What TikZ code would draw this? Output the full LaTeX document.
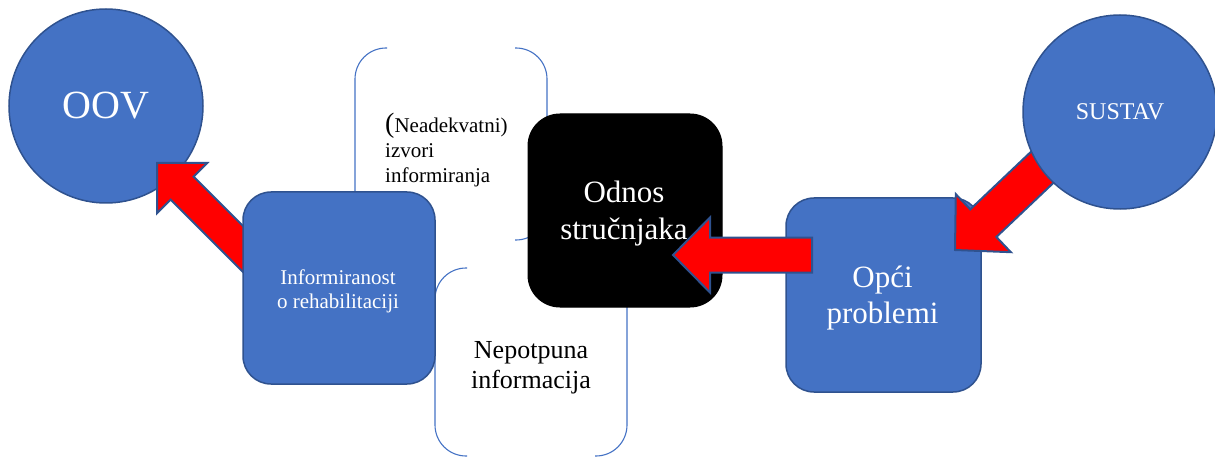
\documentclass[tikz,border=0pt]{standalone}
\usepackage{fontspec}
\setmainfont{Liberation Serif}
\usetikzlibrary{calc}

\definecolor{shapeblue}{HTML}{4472C4}
\definecolor{edgeblue}{HTML}{2F528F}
\definecolor{arrowred}{HTML}{FF0000}

\newcommand{\fsz}[2]{\fontsize{#1}{#2}\selectfont}

% block arrow: tail, tip, shaft width, head width, head length
\newcommand{\blockarrow}[5]{%
  \coordinate (hb) at ($(#2)!#5!(#1)$);
  \draw[arrowshape] (#2)
    -- ($(hb)!0.5*#4!90:(#2)$)
    -- ($(hb)!0.5*#3!90:(#2)$)
    -- ($(#1)!0.5*#3!90:(hb)$)
    -- ($(#1)!0.5*#3!-90:(hb)$)
    -- ($(hb)!0.5*#3!-90:(#2)$)
    -- ($(hb)!0.5*#4!-90:(#2)$)
    -- cycle;
}

\pgfdeclarelayer{back}
\pgfdeclarelayer{mid}
\pgfdeclarelayer{front}
\pgfdeclarelayer{top}
\pgfsetlayers{back,mid,main,front,top}

\tikzset{
  disc/.style={circle, fill=shapeblue, draw=edgeblue, line width=1.5pt,
    minimum size=194pt, inner sep=0pt, text=white},
  panel/.style={rectangle, rounded corners=28pt, fill=shapeblue, draw=edgeblue,
    line width=1.5pt, inner sep=0pt},
  darkpanel/.style={rectangle, rounded corners=32pt, fill=black, draw=black,
    line width=1pt, inner sep=0pt},
  bracket/.style={draw=shapeblue, line width=1.1pt, rounded corners=31pt},
  arrowshape/.style={fill=arrowred, draw=edgeblue, line width=2pt, line join=miter},
  label/.style={inner sep=0pt, align=center},
}

\begin{document}
\begin{tikzpicture}[x=1pt, y=-1pt]
\useasboundingbox (0,0) rectangle (1215,457);

% circles
\begin{pgfonlayer}{back}
  \node[disc, font=\fsz{40}{48}] (oov) at (106,106) {OOV};
\end{pgfonlayer}
\begin{pgfonlayer}{top}
  \node[disc, font=\fsz{24}{28}] (sustav) at (1120,112) {SUSTAV};
\end{pgfonlayer}

% rounded boxes
\node[panel, minimum width=192pt, minimum height=192pt] (info) at (339,288) {};
\node[darkpanel, minimum width=194pt, minimum height=193pt] (odnos) at (625,210.5) {};
\node[panel, minimum width=195pt, minimum height=194pt] (opci) at (883.5,295) {};

% box captions, placed by the baseline of their last line
\node[label, anchor=base, text=white, font=\fsz{21}{24}] (info-text) at (338,308)
  {Informiranost\\o rehabilitaciji};
\node[label, anchor=base, text=white, font=\fsz{31}{37}] (odnos-text) at (624,240)
  {Odnos\\stručnjaka};
\node[label, anchor=base, text=white, font=\fsz{31}{36}] (opci-text) at (882.5,323)
  {Opći\\problemi};

% bracket pairs behind the boxes
\begin{pgfonlayer}{mid}
  \draw[bracket] (387,48) -- (355,48) -- (355,240) -- (387,240);
  \draw[bracket] (515,48) -- (547,48) -- (547,240) -- (515,240);
  \draw[bracket] (467,268) -- (435,268) -- (435,456) -- (467,456);
  \draw[bracket] (595,268) -- (627,268) -- (627,456) -- (595,456);
  \node[label, anchor=base west, align=left, font=\fsz{21}{25.5}] (sources) at (385,183)
    {{\fsz{28}{25.5}(}Neadekvatni)\\izvori\\informiranja};
  \node[label, anchor=base, font=\fsz{26}{30}] (incomplete) at (531,388)
    {Nepotpuna\\informacija};
\end{pgfonlayer}

% arrow ends
\coordinate (a1tail) at (265,271);
\coordinate (a1tip)  at (157,163);
\coordinate (a2tail) at (812,255);
\coordinate (a2tip)  at (673,255);
\coordinate (a3tail) at (1071,140);
\coordinate (a3tip)  at (955,250);

% informiranost -> OOV
\begin{pgfonlayer}{mid}
  \blockarrow{a1tail}{a1tip}{32.5pt}{71pt}{35.5pt}
\end{pgfonlayer}
% opci problemi -> odnos, sustav -> opci problemi
\begin{pgfonlayer}{front}
  \blockarrow{a2tail}{a2tip}{35pt}{75pt}{37pt}
  \blockarrow{a3tail}{a3tip}{38pt}{80pt}{39pt}
\end{pgfonlayer}
\end{tikzpicture}
\end{document}
